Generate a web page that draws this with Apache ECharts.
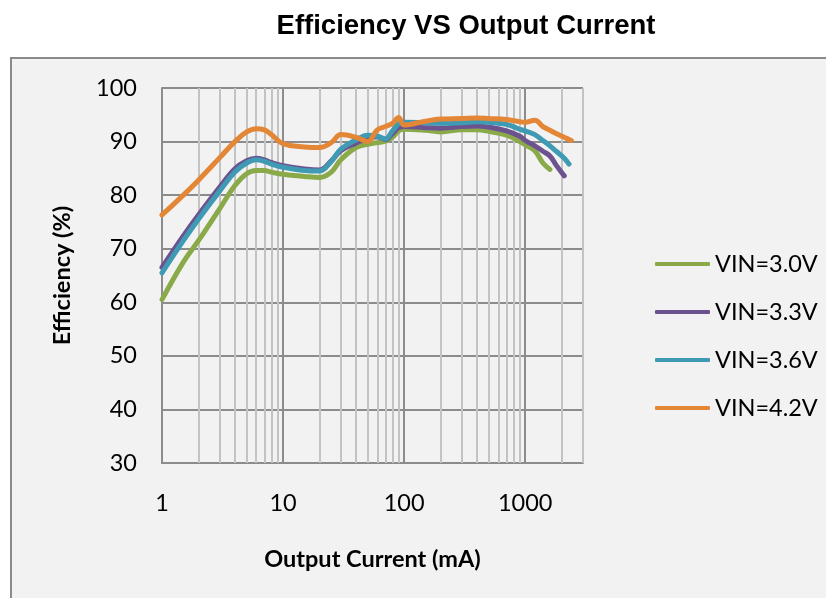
<!DOCTYPE html>
<html>
<head>
<meta charset="utf-8">
<script src="https://cdn.jsdelivr.net/npm/echarts@6/dist/echarts.min.js"></script>
<style>
html,body{margin:0;padding:0;background:#ffffff;}
#chart{width:826px;height:598px;}
</style>
</head>
<body>
<div id="chart"></div>
<script>
const titleText = 'Efficiency VS Output Current';
const xName = 'Output Current (mA)';
const yName = 'Efficiency (%)';
const seriesNames = ['VIN=3.0V', 'VIN=3.3V', 'VIN=3.6V', 'VIN=4.2V'];
const seriesColors = ['#8aaa4a', '#6c528f', '#3f9ab4', '#e38636'];

const current = [1, 1.5, 2, 3, 4, 5, 6, 7, 8, 10, 15, 20, 25, 30, 40, 50, 60, 70, 80, 90, 100, 150, 200, 300, 400, 500, 700, 900, 1000, 1200, 1400, 1600, 1800, 2100, 2300, 2400];

const eff30 = [60.5, 67.5, 71.5, 77.5, 81.8, 84.0, 84.6, 84.6, 84.3, 83.9, 83.5, 83.3, 84.3, 86.6, 88.9, 89.5, 89.8, 90.1, 90.8, 92.0, 92.3, 92.1, 91.8, 92.2, 92.2, 91.9, 91.2, 90.0, 89.4, 88.3, 86.0, 84.8, null, null, null, null];
const eff33 = [66.5, 72.4, 76.3, 81.5, 84.9, 86.4, 86.9, 86.6, 86.1, 85.5, 84.9, 84.7, 86.4, 88.3, 89.7, 90.6, 90.9, 90.4, 91.5, 92.6, 92.8, 92.6, 92.5, 92.8, 92.9, 92.7, 92.0, 91.0, 90.2, 89.2, 88.2, 87.3, 85.6, 83.6, null, null];
const eff36 = [65.5, 71.5, 75.5, 80.8, 84.3, 86.0, 86.6, 86.3, 85.8, 85.2, 84.6, 84.5, 86.3, 88.6, 90.3, 91.2, 91.0, 90.5, 92.0, 93.3, 93.6, 93.5, 93.4, 93.5, 93.7, 93.6, 93.2, 92.3, 92.0, 91.3, 90.2, 89.2, 88.2, 86.9, 85.8, null];
const eff42 = [76.3, 80.0, 82.8, 87.0, 90.0, 91.8, 92.4, 92.2, 91.3, 89.6, 89.0, 88.9, 89.8, 91.3, 90.8, 90.0, 92.2, 92.8, 93.4, 94.5, 93.1, 93.8, 94.2, 94.3, 94.4, 94.3, 94.1, 93.7, 93.6, 94.0, 92.8, 92.1, 91.5, 90.8, 90.4, 90.2];

const xMajorLines = [10, 100, 1000];
const xMinorLines = [2, 3, 4, 5, 6, 7, 8, 9, 20, 30, 40, 50, 60, 70, 80, 90, 200, 300, 400, 500, 600, 700, 800, 900, 2000, 3000];
const xTickLabels = [1, 10, 100, 1000];
const yMin = 30, yMax = 100, yStep = 10;
const xMin = 1, xMax = 3000;

const chart = echarts.init(document.getElementById('chart'), null, {renderer: 'canvas'});
const allEff = [eff30, eff33, eff36, eff42];

function pairs(vals) {
  return current.map((c, i) => [c, vals[i]]);
}

const lineSeries = allEff.map((vals, i) => ({
  name: seriesNames[i],
  type: 'line',
  data: pairs(vals),
  smooth: 0.4,
  showSymbol: false,
  connectNulls: false,
  z: 5 + i,
  color: seriesColors[i],
  lineStyle: {width: 5, color: seriesColors[i], cap: 'round', join: 'round'}
}));

const gridSeries = {
  name: 'grid',
  type: 'line',
  data: [],
  z: 1,
  silent: true,
  markLine: {
    silent: true,
    symbol: ['none', 'none'],
    animation: false,
    label: {show: false},
    data: xMinorLines.map(v => ({xAxis: v, lineStyle: {color: '#c3c3c3', width: 2, type: 'solid'}}))
      .concat(xMajorLines.map(v => ({xAxis: v, lineStyle: {color: '#8c8c8c', width: 2, type: 'solid'}})))
  }
};

const fontReg = 'Lato';

chart.setOption({
  animation: false,
  backgroundColor: '#ffffff',
  graphic: [
    {type: 'rect', z: -10, shape: {x: 11, y: 58, width: 900, height: 700},
     style: {fill: '#f2f2f2', stroke: '#8a8a8a', lineWidth: 2}},
    {type: 'text', x: 466, y: 26, z: 10,
     style: {text: titleText, font: 'bold 27.5px "Liberation Sans", Arial, sans-serif',
             fill: '#000', textAlign: 'center', textVerticalAlign: 'middle'}}
  ],
  grid: {left: 162, top: 88, right: 243, bottom: 135, containLabel: false},
  legend: {
    orient: 'vertical',
    left: 650,
    top: 245,
    data: seriesNames,
    icon: 'roundRect',
    itemWidth: 55,
    itemHeight: 4,
    itemGap: 20,
    textStyle: {fontFamily: fontReg, fontSize: 23.5, color: '#000', lineHeight: 28}
  },
  xAxis: {
    type: 'log',
    logBase: 10,
    min: xMin,
    max: xMax,
    name: xName,
    nameLocation: 'middle',
    nameGap: 84,
    nameTextStyle: {fontFamily: fontReg, fontWeight: 'bold', fontSize: 23.5, color: '#000'},
    axisLine: {show: true, onZero: false, lineStyle: {color: '#8c8c8c', width: 2}},
    axisTick: {show: false},
    splitLine: {show: false},
    axisLabel: {
      margin: 28,
      fontFamily: fontReg, fontSize: 23.5, color: '#000',
      showMaxLabel: false,
      formatter: function (v) {
        const r = Math.round(v);
        return xTickLabels.indexOf(r) >= 0 ? String(r) : '';
      }
    }
  },
  yAxis: {
    type: 'value',
    min: yMin,
    max: yMax,
    interval: yStep,
    name: yName,
    nameLocation: 'middle',
    nameGap: 88,
    nameTextStyle: {fontFamily: fontReg, fontWeight: 'bold', fontSize: 23.5, color: '#000'},
    axisLine: {show: true, lineStyle: {color: '#8c8c8c', width: 2}},
    axisTick: {show: false},
    splitLine: {show: true, lineStyle: {color: '#8c8c8c', width: 2}},
    axisLabel: {margin: 25, fontFamily: fontReg, fontSize: 23.5, color: '#000'}
  },
  series: [gridSeries].concat(lineSeries)
});
</script>
</body>
</html>
